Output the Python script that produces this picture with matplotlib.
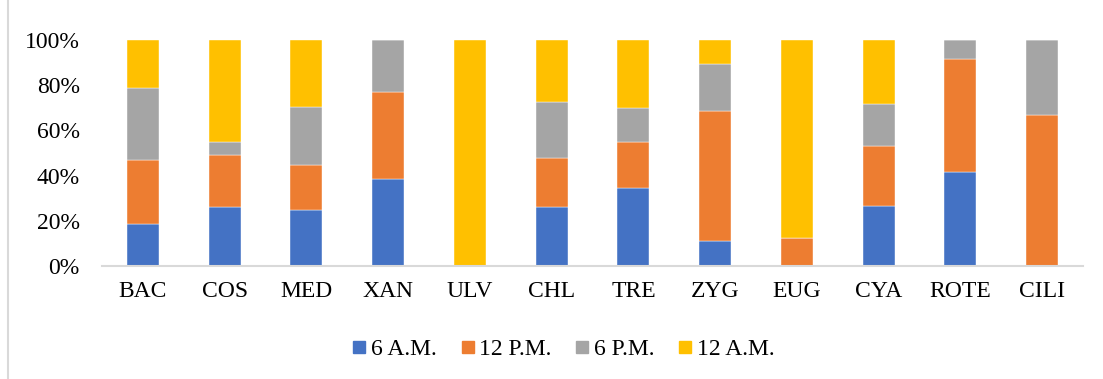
import matplotlib.pyplot as plt
from matplotlib.lines import Line2D
import numpy as np

plt.rcParams['font.family'] = ['Liberation Serif', 'DejaVu Serif']

categories = ["BAC", "COS", "MED", "XAN", "ULV", "CHL", "TRE", "ZYG", "EUG", "CYA", "ROTE", "CILI"]
# percentage share of each time slot
am6 = [18.8, 26.3, 24.8, 38.3, 0.0, 26.1, 34.7, 11.2, 0.0, 26.6, 41.5, 0.0]
pm12 = [27.9, 22.6, 20.1, 38.7, 0.0, 21.9, 20.0, 57.2, 12.4, 26.7, 50.2, 66.6]
pm6 = [32.2, 6.0, 25.6, 23.0, 0.0, 24.7, 15.0, 20.8, 0.0, 18.5, 8.3, 33.4]
am12 = [21.1, 45.1, 29.5, 0.0, 100.0, 27.3, 30.3, 10.8, 87.6, 28.2, 0.0, 0.0]
series = ["6 A.M.", "12 P.M.", "6 P.M.", "12 A.M."]
colors = ["#4472C4", "#ED7D31", "#A5A5A5", "#FFC000"]

W, H = 1103, 379
fig = plt.figure(figsize=(W / 100, H / 100), dpi=100)
ax = fig.add_axes([102 / W, (H - 266) / H, (1083 - 102) / W, (266 - 40) / H])

x = np.arange(len(categories))
bottom = np.zeros(len(categories))
for vals, c in zip([am6, pm12, pm6, am12], colors):
    ax.bar(x, vals, 0.39, bottom=bottom, color=c, edgecolor="white", linewidth=0.3)
    bottom += np.array(vals)

ax.set_xlim(-0.5, len(categories) - 0.5)
ax.set_ylim(0, 100)
ax.set_yticks(np.arange(0, 101, 20))
ax.set_yticklabels([f"{v}%" for v in range(0, 101, 20)])
ax.set_xticks(x)
ax.set_xticklabels(categories)
ax.tick_params(axis="y", length=0, pad=16, labelsize=17)
ax.tick_params(axis="x", length=0, pad=11, labelsize=17)
for s in ["top", "right", "left"]:
    ax.spines[s].set_visible(False)
ax.spines["bottom"].set_color("#d9d9d9")
ax.spines["bottom"].set_linewidth(1.5)

# chart frame edge on the left
fig.add_artist(Line2D([7.5 / W, 7.5 / W], [0, 1], color="#d9d9d9", lw=1.5))

handles = [Line2D([], [], marker="s", linestyle="none", markersize=9,
                  markerfacecolor=c, markeredgecolor=c) for c in colors]
fig.legend(handles, series, loc="center", bbox_to_anchor=(563.5 / W, 30 / H),
           ncol=4, frameon=False, fontsize=17, handlelength=0.6,
           handletextpad=0.2, columnspacing=1.0)

fig.savefig("out.png", dpi=100)
